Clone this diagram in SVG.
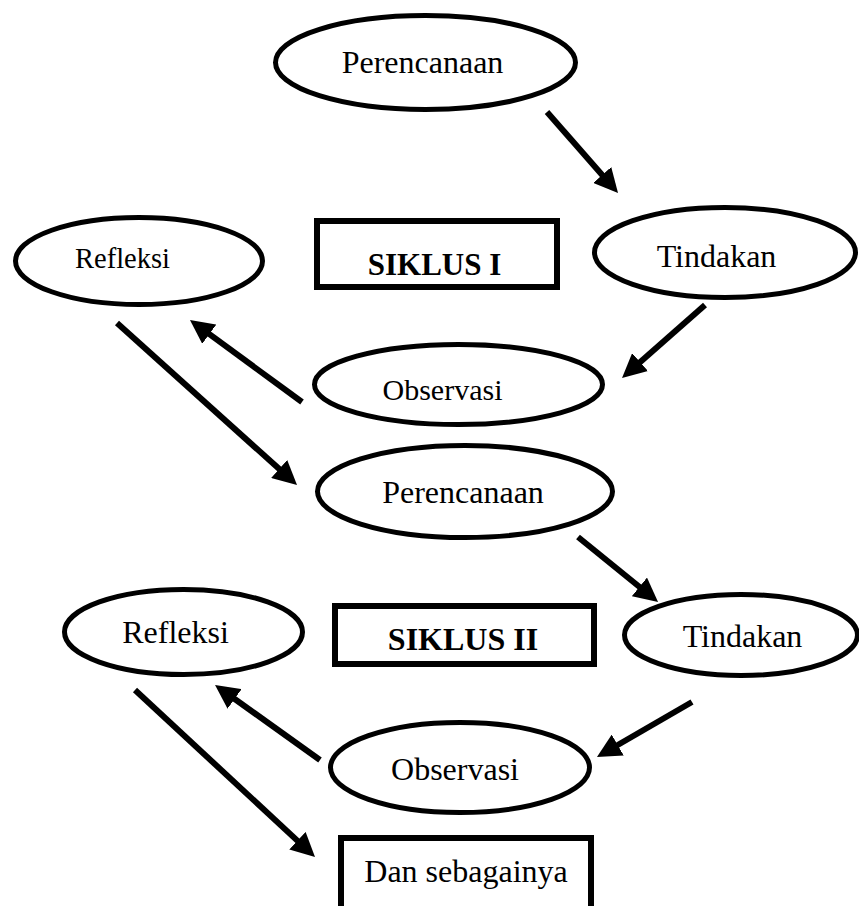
<svg xmlns="http://www.w3.org/2000/svg" width="859" height="906" viewBox="0 0 859 906">
<style>
.n ellipse{fill:#fff;stroke:#000;stroke-width:5}
.n rect{fill:#fff;stroke:#000;stroke-width:6}
text{font-family:"Liberation Serif","Times New Roman",serif;font-size:32px;fill:#000;text-anchor:middle}
.b{font-weight:bold}
.c line{stroke:#000;stroke-width:6;marker-end:url(#ah)}
</style>
<defs>
<marker id="ah" markerUnits="userSpaceOnUse" markerWidth="24" markerHeight="24" viewBox="0 0 24 24" refX="5" refY="12" orient="auto">
<path d="M0,0 L24,12 L0,24 z" fill="#000"/>
</marker>
</defs>
<rect width="859" height="906" fill="#fff"/>
<g class="n" id="perencanaan1"><ellipse cx="425.5" cy="62.5" rx="150" ry="47"/><text x="422.5" y="73">Perencanaan</text></g>
<g class="n" id="refleksi1"><ellipse cx="139" cy="261" rx="123.5" ry="43.5"/><text x="122.5" y="268" style="font-size:28.5px">Refleksi</text></g>
<g class="n" id="siklus1"><rect x="317" y="221" width="240" height="66"/><text class="b" x="434.5" y="275" style="font-size:31px">SIKLUS I</text></g>
<g class="n" id="tindakan1"><ellipse cx="725" cy="252.5" rx="130.5" ry="45"/><text x="716.5" y="267">Tindakan</text></g>
<g class="n" id="observasi1"><ellipse cx="458.5" cy="384.5" rx="144" ry="40"/><text x="442.5" y="400" style="font-size:30px">Observasi</text></g>
<g class="n" id="perencanaan2"><ellipse cx="465" cy="491.5" rx="147.5" ry="46"/><text x="463" y="503">Perencanaan</text></g>
<g class="n" id="refleksi2"><ellipse cx="183.5" cy="632" rx="119" ry="42.5"/><text x="175.5" y="643">Refleksi</text></g>
<g class="n" id="siklus2"><rect x="335" y="606" width="259" height="58"/><text class="b" x="463" y="650">SIKLUS II</text></g>
<g class="n" id="tindakan2"><ellipse cx="741" cy="635" rx="116.5" ry="40.5"/><text x="742.5" y="647">Tindakan</text></g>
<g class="n" id="observasi2"><ellipse cx="460" cy="767.5" rx="129.5" ry="45"/><text x="455" y="780">Observasi</text></g>
<g class="n" id="dansebagainya"><rect x="341" y="838" width="250" height="80"/><text x="466" y="882">Dan sebagainya</text></g>
<g class="c" id="connectors">
<line x1="547" y1="112" x2="605.5" y2="178.7"/>
<line x1="705" y1="305" x2="636.3" y2="365.4"/>
<line x1="302" y1="402" x2="205.3" y2="331.2"/>
<line x1="117" y1="323" x2="282.9" y2="472.3"/>
<line x1="578" y1="537" x2="643.3" y2="590"/>
<line x1="692" y1="702" x2="613.4" y2="747.5"/>
<line x1="320" y1="760" x2="230.5" y2="696"/>
<line x1="135" y1="690" x2="301.1" y2="844.1"/>
</g>
</svg>
